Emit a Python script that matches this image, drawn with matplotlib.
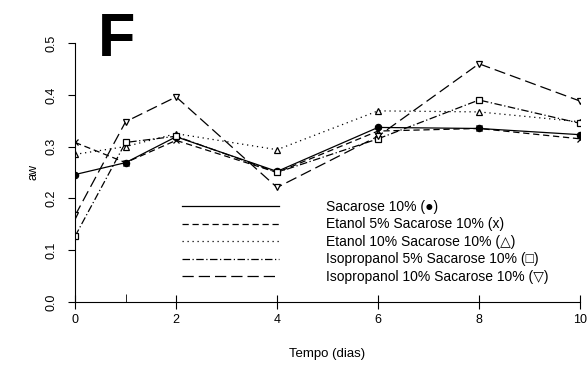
import matplotlib
matplotlib.use("Agg")
import matplotlib.pyplot as plt
from matplotlib.lines import Line2D

plt.rcParams["font.family"] = ["Liberation Sans", "DejaVu Sans"]

# dados
tempo = [0, 1, 2, 4, 6, 8, 10]
sacarose = [0.246, 0.269, 0.319, 0.252, 0.337, 0.335, 0.323]
etanol5 = [0.308, 0.269, 0.312, 0.250, 0.330, 0.335, 0.315]
etanol10 = [0.285, 0.300, 0.325, 0.294, 0.369, 0.367, 0.348]
isoprop5 = [0.127, 0.308, 0.320, 0.250, 0.315, 0.390, 0.345]
isoprop10 = [0.167, 0.348, 0.396, 0.221, 0.320, 0.460, 0.388]

nomes = ["Sacarose 10% (\u25cf)",
         "Etanol 5% Sacarose 10% (x)",
         "Etanol 10% Sacarose 10% (\u25b3)",
         "Isopropanol 5% Sacarose 10% (\u25a1)",
         "Isopropanol 10% Sacarose 10% (\u25bd)"]

estilos = ["-", (0, (5, 3)), (0, (1, 3)), (0, (6, 2, 1, 2)), (0, (9, 4))]
marcadores = ["o", "x", "^", "s", "v"]
series = [sacarose, etanol5, etanol10, isoprop5, isoprop10]

fig = plt.figure(figsize=(5.87, 3.65), dpi=100)
ax = fig.add_axes([0.128, 0.173, 0.86, 0.709])

for y, ls, m in zip(series, estilos, marcadores):
    cheio = m in ("o", "x")
    ax.plot(tempo, y, color="black", linestyle=ls, linewidth=0.9,
            marker=m, markersize=5 if m != "o" else 4.5,
            markerfacecolor="black" if cheio else "white",
            markeredgecolor="black", markeredgewidth=0.9)

ax.set_xlim(0, 10)
ax.set_ylim(0, 0.5)
ax.spines["top"].set_visible(False)
ax.spines["right"].set_visible(False)
ax.set_xticks([0, 2, 4, 6, 8, 10])
ax.set_xticks([1], minor=True)
ax.set_yticks([0.0, 0.1, 0.2, 0.3, 0.4, 0.5])
ax.set_yticklabels(["0.0", "0.1", "0.2", "0.3", "0.4", "0.5"], rotation=90, va="center")
ax.tick_params(axis="x", direction="inout", length=10, labelsize=9)
ax.tick_params(axis="x", which="minor", direction="in", length=6)
ax.tick_params(axis="y", direction="out", length=5, labelsize=9, pad=8)
ax.set_xlabel("Tempo (dias)", fontsize=9.5, labelpad=16)
ax.set_ylabel("aw", fontsize=9, labelpad=4)

ax.text(0.045, 1.01, "F", transform=ax.transAxes, fontsize=44,
        fontweight="bold", va="center", ha="left")

handles = [Line2D([], [], color="black", linestyle=ls, linewidth=0.9) for ls in estilos]
leg = ax.legend(handles, nomes, loc="upper left", bbox_to_anchor=(0.2, 0.415),
                frameon=False, fontsize=10, handlelength=7.0,
                handletextpad=3.4, labelspacing=0.25, borderaxespad=0)

fig.savefig("out.png", dpi=100)
